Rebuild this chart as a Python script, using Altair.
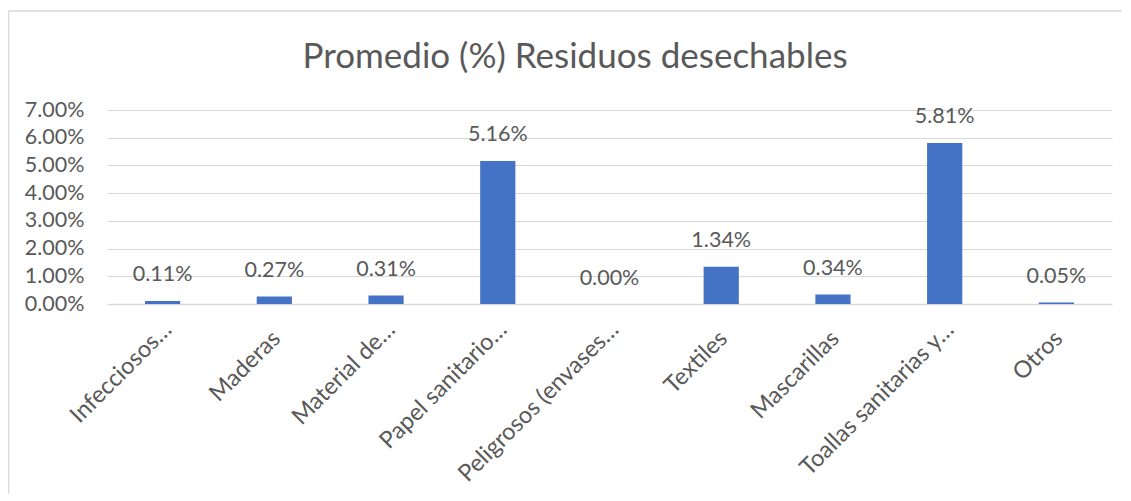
import altair as alt
import pandas as pd

titulo = "Promedio (%) Residuos desechables"
categorias = ["Infecciosos…", "Maderas", "Material de…", "Papel sanitario…",
              "Peligrosos (envases…", "Textiles", "Mascarillas",
              "Toallas sanitarias y…", "Otros"]
valores = [0.0011, 0.0027, 0.0031, 0.0516, 0.0000, 0.0134, 0.0034, 0.0581, 0.0005]
ticks_y = [0, 0.01, 0.02, 0.03, 0.04, 0.05, 0.06, 0.07]

df = pd.DataFrame({"cat": categorias, "val": valores})

FONT = "Lato"
GRAY = "#595959"
FS = 21.5
TRUNC = "indexof(datum.value, '…') >= 0"

x = alt.X("cat:N", sort=categorias, title=None,
          scale=alt.Scale(paddingInner=0.685, paddingOuter=0.34),
          axis=alt.Axis(labelAngle=-45, labelAlign="right", labelBaseline="top",
                        labelFontSize=23.5, labelColor=GRAY, labelFont=FONT,
                        ticks=False, domainColor="#D9D9D9", domainWidth=1.5,
                        labelPadding={"condition": {"test": TRUNC, "value": 13}, "value": 22},
                        labelOffset={"condition": {"test": TRUNC, "value": -3}, "value": -6},
                        labelLimit=400, labelOverlap=False))
y = alt.Y("val:Q", title=None,
          scale=alt.Scale(domain=[0, 0.07], nice=False),
          axis=alt.Axis(values=ticks_y, format=".2%", labelFontSize=FS,
                        labelColor=GRAY, labelFont=FONT, ticks=False,
                        domain=False, gridColor="#D9D9D9", labelPadding=23,
                        labelOverlap=False))

base = alt.Chart(df)
bars = base.mark_bar(color="#4472C4").encode(x=x, y=y)
labels = base.mark_text(dy=-19.5, fontSize=FS, color=GRAY, font=FONT,
                        baseline="alphabetic").encode(
    x=x, y=y, text=alt.Text("val:Q", format=".2%"))

frame = alt.Chart(pd.DataFrame({"t": [titulo]}))
title_mark = frame.mark_text(fontSize=35, font=FONT, color=GRAY,
                             align="center", baseline="alphabetic").encode(
    x=alt.value(468), y=alt.value(-42.5), text="t:N")
# light chart-area border (left and top edges)
left_edge = frame.mark_rule(color="#D9D9D9", strokeWidth=1.5).encode(
    x=alt.value(-98.5), y=alt.value(-99), y2=alt.value(395))
top_edge = frame.mark_rule(color="#D9D9D9", strokeWidth=1.5).encode(
    x=alt.value(-98.5), x2=alt.value(1020), y=alt.value(-99))

chart = alt.layer(bars, labels, title_mark, left_edge, top_edge).properties(
    width=1005, height=194,
    autosize=alt.AutoSizeParams(type="none"),
    padding={"left": 99, "top": 102, "right": 10, "bottom": 190},
).configure_view(stroke=None)

chart.save("out.html", embed_options={"renderer": "svg", "actions": False})
